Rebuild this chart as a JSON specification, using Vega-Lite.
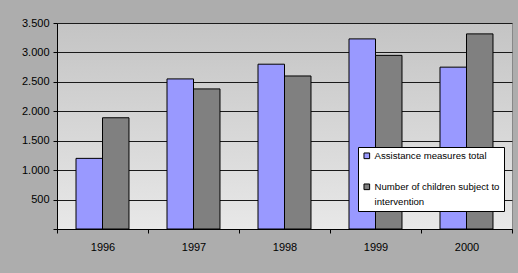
{
  "$schema": "https://vega.github.io/schema/vega-lite/v6.json",
  "width": 455,
  "height": 206,
  "autosize": {"type": "none"},
  "padding": {"left": 57, "top": 23, "right": 6, "bottom": 44},
  "background": "#adadad",
  "data": {
    "values": [
      {"year": "1996", "series": "Assistance measures total", "value": 1200},
      {"year": "1996", "series": "Number of children subject to intervention", "value": 1890},
      {"year": "1997", "series": "Assistance measures total", "value": 2550},
      {"year": "1997", "series": "Number of children subject to intervention", "value": 2380},
      {"year": "1998", "series": "Assistance measures total", "value": 2800},
      {"year": "1998", "series": "Number of children subject to intervention", "value": 2600},
      {"year": "1999", "series": "Assistance measures total", "value": 3230},
      {"year": "1999", "series": "Number of children subject to intervention", "value": 2950},
      {"year": "2000", "series": "Assistance measures total", "value": 2750},
      {"year": "2000", "series": "Number of children subject to intervention", "value": 3315}
    ]
  },
  "mark": {"type": "bar", "stroke": "#000000", "strokeWidth": 1},
  "encoding": {
    "x": {
      "field": "year",
      "type": "nominal",
      "scale": {"paddingInner": 0, "paddingOuter": 0},
      "axis": {
        "title": null,
        "labelAngle": 0,
        "labelFont": "Liberation Sans",
        "labelFontSize": 11,
        "labelColor": "#000000",
        "labelPadding": 8,
        "tickBand": "extent",
        "tickSize": 4,
        "tickColor": "#000000",
        "domainColor": "#000000",
        "grid": false
      }
    },
    "xOffset": {
      "field": "series",
      "type": "nominal",
      "scale": {"paddingInner": 0, "paddingOuter": 0.717}
    },
    "y": {
      "field": "value",
      "type": "quantitative",
      "scale": {"domain": [0, 3500], "nice": false},
      "axis": {
        "title": null,
        "values": [0, 500, 1000, 1500, 2000, 2500, 3000, 3500],
        "labelExpr": "datum.value == 0 ? '' : replace(format(datum.value, ','), ',', '.')",
        "labelFont": "Liberation Sans",
        "labelFontSize": 11,
        "labelColor": "#000000",
        "labelPadding": 4,
        "tickSize": 4,
        "tickColor": "#000000",
        "domainColor": "#000000",
        "grid": true,
        "gridColor": "#1a1a1a",
        "gridOpacity": 1
      }
    },
    "color": {
      "field": "series",
      "type": "nominal",
      "scale": {"range": ["#9999ff", "#808080"]},
      "legend": {
        "title": null,
        "orient": "none",
        "legendX": 301,
        "legendY": 124,
        "fillColor": "#ffffff",
        "strokeColor": "#000000",
        "padding": 4,
        "symbolType": "square",
        "symbolSize": 32,
        "symbolStrokeColor": "#000000",
        "symbolStrokeWidth": 1,
        "labelOffset": 3,
        "labelFont": "Liberation Sans",
        "labelFontSize": 9.6,
        "labelColor": "#000000",
        "labelLimit": 200,
        "rowPadding": 20,
        "labelExpr": "datum.label == 'Number of children subject to intervention' ? ['Number of children subject to', 'intervention'] : datum.label",
        "encode": {
          "labels": {"update": {"lineHeight": {"value": 15}}}
        }
      }
    }
  },
  "config": {
    "view": {
      "fill": {
        "gradient": "linear",
        "x1": 0, "y1": 0, "x2": 0, "y2": 1,
        "stops": [
          {"offset": 0, "color": "#c4c4c4"},
          {"offset": 1, "color": "#e8e8e8"}
        ]
      },
      "stroke": "#888888"
    }
  }
}
